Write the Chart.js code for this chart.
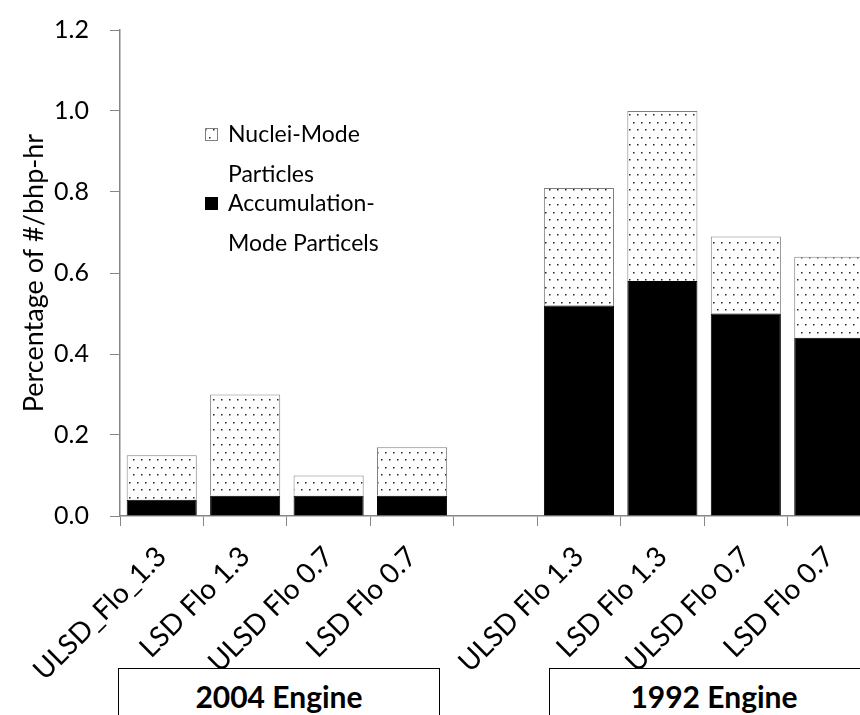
<!DOCTYPE html>
<html>
<head>
<meta charset="utf-8">
<script src="https://cdn.jsdelivr.net/npm/chart.js@4.4.0/dist/chart.umd.min.js"></script>
<style>
  html, body { margin: 0; padding: 0; background: #fff; overflow: hidden; width: 860px; height: 715px; }
  #wrap { position: relative; width: 880px; height: 715px; }
  .engine {
    position: absolute; box-sizing: border-box; border: 1.5px solid #000; background: #fff;
    font: bold 30px Lato, sans-serif; color: #000; text-align: center; line-height: 54px; height: 70px;
  }
</style>
</head>
<body>
<div id="wrap">
  <canvas id="chart" width="880" height="715"></canvas>
  <div class="engine" style="left:118px; top:668px; width:322px;">2004 Engine</div>
  <div class="engine" style="left:549px; top:668px; width:330px;">1992 Engine</div>
</div>
<script>
const categories = ["ULSD_Flo_1.3", "LSD Flo 1.3", "ULSD Flo 0.7", "LSD Flo 0.7", "",
                    "ULSD Flo 1.3", "LSD Flo 1.3", "ULSD Flo 0.7", "LSD Flo 0.7"];
const accumulation = [0.04, 0.05, 0.05, 0.05, null, 0.52, 0.58, 0.50, 0.44];
const nuclei = [0.11, 0.25, 0.05, 0.12, null, 0.29, 0.42, 0.19, 0.20];
const yTicks = [0, 0.2, 0.4, 0.6, 0.8, 1.0, 1.2];

const FONT = "Lato, sans-serif";
const AXIS_GREY = "#868686";

// dotted fill like the Excel pattern
function dotPattern() {
  const c = document.createElement("canvas");
  c.width = 8; c.height = 15;
  const g = c.getContext("2d");
  g.fillStyle = "#fff";
  g.fillRect(0, 0, 8, 15);
  g.fillStyle = "#222";
  g.fillRect(1, 2, 1.5, 1.5);
  g.fillRect(5, 9, 1.5, 1.5);
  return g.createPattern(c, "repeat");
}
const dots = dotPattern();

const legendLines = [
  ["Nuclei-Mode", "Particles"],
  ["Accumulation-", "Mode Particels"]
];

const legendPlugin = {
  id: "wrapLegend",
  afterDraw(chart) {
    const ctx = chart.ctx;
    const order = [1, 0];
    let y = 135;
    ctx.save();
    ctx.font = "23px " + FONT;
    ctx.textBaseline = "middle";
    order.forEach((di, i) => {
      const ds = chart.data.datasets[di];
      ctx.fillStyle = ds.backgroundColor;
      ctx.fillRect(205, y - 7, 13, 13);
      ctx.strokeStyle = ds.borderColor;
      ctx.lineWidth = 1;
      ctx.strokeRect(205.5, y - 6.5, 12, 12);
      ctx.fillStyle = "#000";
      legendLines[i].forEach((t, k) => ctx.fillText(t, 228, y + k * 40));
      y += 69;
    });
    ctx.restore();
  }
};

new Chart(document.getElementById("chart"), {
  type: "bar",
  data: {
    labels: categories,
    datasets: [
      {
        label: "Accumulation-Mode Particels",
        data: accumulation,
        backgroundColor: "#000",
        borderColor: "#000",
        borderWidth: 1
      },
      {
        label: "Nuclei-Mode Particles",
        data: nuclei,
        backgroundColor: dots,
        borderColor: "#7f7f7f",
        borderWidth: 1
      }
    ]
  },
  options: {
    responsive: false,
    animation: false,
    layout: { padding: { left: 18, top: 0, right: 9, bottom: 0 } },
    plugins: { legend: { display: false }, tooltip: { enabled: false } },
    datasets: { bar: { categoryPercentage: 1, barPercentage: 0.84 } },
    scales: {
      x: {
        stacked: true,
        grid: { offset: true, drawOnChartArea: false, color: AXIS_GREY, tickLength: 10, tickColor: AXIS_GREY },
        border: { color: AXIS_GREY, width: 1.5 },
        ticks: {
          color: "#000", font: { family: FONT, size: 28 },
          maxRotation: 45, minRotation: 45, padding: 14, autoSkip: false
        },
        afterFit(s) { s.height = 199; }
      },
      y: {
        stacked: true,
        min: 0, max: 1.2,
        afterBuildTicks(s) { s.ticks = yTicks.map(v => ({ value: v })); },
        grid: { drawOnChartArea: false, color: AXIS_GREY, tickLength: 10, tickColor: AXIS_GREY },
        border: { color: AXIS_GREY, width: 1.5 },
        ticks: {
          color: "#000", font: { family: FONT, size: 25, lineHeight: 2.4 }, padding: 21,
          callback: v => Number(v).toFixed(1)
        },
        title: {
          display: true, text: "Percentage of #/bhp-hr",
          color: "#000", font: { family: FONT, size: 27 }, padding: 0
        },
        afterFit(s) { s.width = 102; s.paddingTop = 30; }
      }
    }
  },
  plugins: [legendPlugin]
});
</script>
</body>
</html>
